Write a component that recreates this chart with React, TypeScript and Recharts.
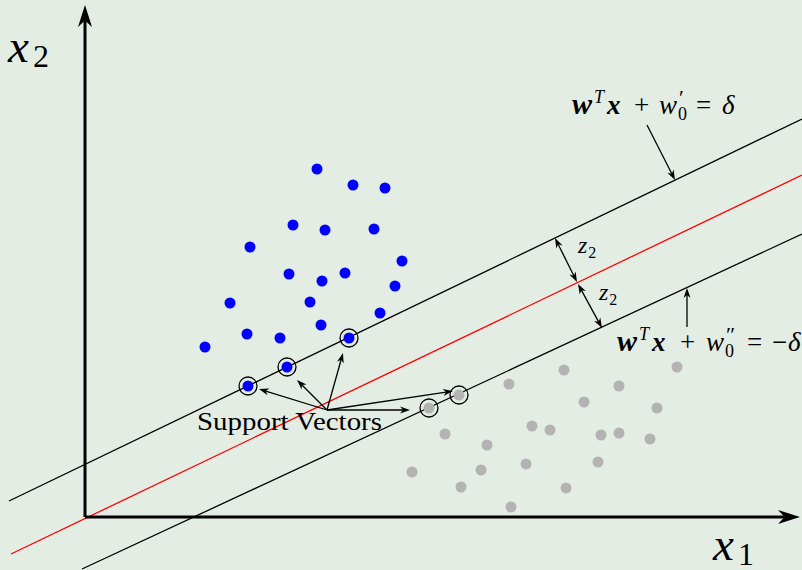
import React from 'react';
import { ScatterChart, Scatter, XAxis, YAxis, ReferenceLine, ReferenceDot } from 'recharts';

// coordinates are measured from the axis origin (x1 right, x2 up)
const classA = [
  [232, 348], [268, 332], [300, 329], [208, 292], [240, 287], [289, 288],
  [165, 270], [317, 256], [204, 243], [237, 236], [260, 244], [310, 231],
  [145, 214], [225, 215], [295, 204], [236, 192], [162, 183], [195, 179],
  [120, 170],
];
const classASupport = [[264, 179], [202, 150], [163, 131]];

const classB = [
  [479, 147], [592, 150], [424, 133], [534, 131], [499, 115], [572, 109],
  [447, 91], [465, 87], [360, 83], [516, 82], [534, 84], [565, 78],
  [402, 72], [441, 53], [513, 55], [327, 45], [396, 47], [376, 30],
  [481, 29], [426, 10],
];
const classBSupport = [[374, 122], [344, 109]];

// margin lines and the separating hyperplane
const upperMargin = [[-76, 16], [717, 398]];
const hyperplane = [[-74, -37], [717, 342]];
const lowerMargin = [[-3, -52], [717, 283]];

const axisX = [[0, 0], [715, 0]];
const axisY = [[0, 0], [0, 512]];

const svLabelOrigin = [242, 107];
const svTargets = [[174, 128], [212, 137], [258, 164], [325, 107], [368, 126]];

const eqUpperArrow = [[562, 392], [590, 337]];
const eqLowerArrow = [[602, 190], [602, 229]];
const z2Arrows = [
  [[470, 279], [492, 235]],
  [[493, 233], [517, 189]],
];

const toPts = (arr: number[][]) => arr.map(([x, y]) => ({ x, y }));

const BG = '#e4ede4';
const SERIF = '"Liberation Serif", "DejaVu Serif", serif';

type Seg = { x1: number; y1: number; x2: number; y2: number };

// line with a stealth-style head at the end (and optionally at the start)
const arrowShape = (opts: { width: number; len: number; head: number; both?: boolean; color?: string }) =>
  (p: any) => {
    const { x1, y1, x2, y2 } = p as Seg;
    const color = opts.color || '#000';
    const dx = x2 - x1;
    const dy = y2 - y1;
    const d = Math.hypot(dx, dy) || 1;
    const ux = dx / d;
    const uy = dy / d;
    const nx = -uy;
    const ny = ux;
    const head = (tx: number, ty: number, sx: number, sy: number) => {
      const bx = tx - sx * opts.len;
      const by = ty - sy * opts.len;
      const mx = tx - sx * opts.len * 0.7;
      const my = ty - sy * opts.len * 0.7;
      const pts = [
        [tx, ty],
        [bx + nx * opts.head, by + ny * opts.head],
        [mx, my],
        [bx - nx * opts.head, by - ny * opts.head],
      ];
      return <polygon points={pts.map((q) => q.join(',')).join(' ')} fill={color} />;
    };
    const ex = x2 - ux * opts.len * 0.7;
    const ey = y2 - uy * opts.len * 0.7;
    const sx0 = opts.both ? x1 + ux * opts.len * 0.7 : x1;
    const sy0 = opts.both ? y1 + uy * opts.len * 0.7 : y1;
    return (
      <g>
        <line x1={sx0} y1={sy0} x2={ex} y2={ey} stroke={color} strokeWidth={opts.width} />
        {head(x2, y2, ux, uy)}
        {opts.both ? head(x1, y1, -ux, -uy) : null}
      </g>
    );
  };

const dotShape = (fill: string, ring: boolean) => (p: any) => (
  <g>
    <circle cx={p.cx} cy={p.cy} r={5.5} fill={fill} />
    {ring ? <circle cx={p.cx} cy={p.cy} r={9} fill="none" stroke="#000" strokeWidth={1.3} /> : null}
  </g>
);

const axisLabel = (main: string, sub: string) => (p: any) => (
  <text x={p.cx} y={p.cy} fontFamily={SERIF} fill="#000">
    <tspan fontSize={47} fontStyle="italic">{main}</tspan>
    <tspan fontSize={32} dx={4} dy={5}>{sub}</tspan>
  </text>
);

// one glyph of a formula, placed by offset from the formula start
type Glyph = { t: string; dx: number; dy?: number; size?: number; bold?: boolean; italic?: boolean };

const upperGlyphs: Glyph[] = [
  { t: 'w', dx: 0, size: 30, bold: true, italic: true },
  { t: 'T', dx: 22, dy: -11, size: 18, italic: true },
  { t: 'x', dx: 35, bold: true, italic: true },
  { t: '+', dx: 62 },
  { t: 'w', dx: 87, italic: true },
  { t: '′', dx: 107, dy: -9, size: 22 },
  { t: '0', dx: 106, dy: 6, size: 18 },
  { t: '=', dx: 124 },
  { t: 'δ', dx: 150, italic: true },
];

const lowerGlyphs: Glyph[] = [
  { t: 'w', dx: 0, size: 30, bold: true, italic: true },
  { t: 'T', dx: 22, dy: -11, size: 18, italic: true },
  { t: 'x', dx: 35, bold: true, italic: true },
  { t: '+', dx: 63 },
  { t: 'w', dx: 89, italic: true },
  { t: '″', dx: 109, dy: -9, size: 22 },
  { t: '0', dx: 108, dy: 6, size: 18 },
  { t: '=', dx: 130 },
  { t: '−', dx: 155 },
  { t: 'δ', dx: 171, italic: true },
];

const formula = (glyphs: Glyph[]) => (p: any) => (
  <g>
    {glyphs.map((g, i) => (
      <text
        key={i}
        x={p.cx + g.dx}
        y={p.cy + (g.dy || 0)}
        fontFamily={SERIF}
        fontSize={g.size || 27}
        fontWeight={g.bold ? 'bold' : 'normal'}
        fontStyle={g.italic ? 'italic' : 'normal'}
        fill="#000"
      >
        {g.t}
      </text>
    ))}
  </g>
);

const zLabel = (p: any) => (
  <text x={p.cx} y={p.cy} fontFamily={SERIF} fill="#000">
    <tspan fontSize={24} fontStyle="italic">z</tspan>
    <tspan fontSize={16} dx={1} dy={5}>2</tspan>
  </text>
);

const svText = (p: any) => (
  <text
    x={p.cx}
    y={p.cy}
    fontFamily={SERIF}
    fontSize={26}
    textLength={185}
    lengthAdjust="spacingAndGlyphs"
    fill="#000"
  >
    Support Vectors
  </text>
);

const seg = (s: number[][]) => toPts(s) as any;

export default function App() {
  const thin = arrowShape({ width: 1.3, len: 10, head: 3.5 });
  const thinBoth = arrowShape({ width: 1.3, len: 10, head: 3.5, both: true });
  const axisArrow = arrowShape({ width: 3, len: 22, head: 7 });

  return (
    <div style={{ position: 'fixed', left: 0, top: 0, width: 802, height: 570, background: BG }}>
      <ScatterChart width={802} height={570} margin={{ top: 0, right: 0, bottom: 0, left: 0 }}>
        <XAxis type="number" dataKey="x" domain={[-85, 717]} hide allowDataOverflow />
        <YAxis type="number" dataKey="y" domain={[-53, 517]} hide allowDataOverflow />

        <ReferenceLine segment={seg(upperMargin)} stroke="#000" strokeWidth={1.3} ifOverflow="visible" />
        <ReferenceLine segment={seg(hyperplane)} stroke="#ff0000" strokeWidth={1.3} ifOverflow="visible" />
        <ReferenceLine segment={seg(lowerMargin)} stroke="#000" strokeWidth={1.3} ifOverflow="visible" />

        <ReferenceLine segment={seg(axisY)} ifOverflow="visible" shape={axisArrow} />
        <ReferenceLine segment={seg(axisX)} ifOverflow="visible" shape={axisArrow} />

        <Scatter data={toPts(classA)} shape={dotShape('#0000ff', false)} isAnimationActive={false} />
        <Scatter data={toPts(classB)} shape={dotShape('#b3b3b3', false)} isAnimationActive={false} />
        <Scatter data={toPts(classASupport)} shape={dotShape('#0000ff', true)} isAnimationActive={false} />
        <Scatter data={toPts(classBSupport)} shape={dotShape('#b3b3b3', true)} isAnimationActive={false} />

        {svTargets.map((t, i) => (
          <ReferenceLine key={`sv-${i}`} segment={seg([svLabelOrigin, t])} ifOverflow="visible" shape={thin} />
        ))}
        <ReferenceLine segment={seg(eqUpperArrow)} ifOverflow="visible" shape={thin} />
        <ReferenceLine segment={seg(eqLowerArrow)} ifOverflow="visible" shape={thin} />
        {z2Arrows.map((a, i) => (
          <ReferenceLine key={`z-${i}`} segment={seg(a)} ifOverflow="visible" shape={thinBoth} />
        ))}

        <ReferenceDot x={-77} y={455} ifOverflow="visible" shape={axisLabel('x', '2')} />
        <ReferenceDot x={628} y={-43} ifOverflow="visible" shape={axisLabel('x', '1')} />
        <ReferenceDot x={112} y={87} ifOverflow="visible" shape={svText} />
        <ReferenceDot x={487} y={403} ifOverflow="visible" shape={formula(upperGlyphs)} />
        <ReferenceDot x={532} y={166} ifOverflow="visible" shape={formula(lowerGlyphs)} />
        <ReferenceDot x={493} y={264} ifOverflow="visible" shape={zLabel} />
        <ReferenceDot x={514} y={217} ifOverflow="visible" shape={zLabel} />
      </ScatterChart>
    </div>
  );
}
